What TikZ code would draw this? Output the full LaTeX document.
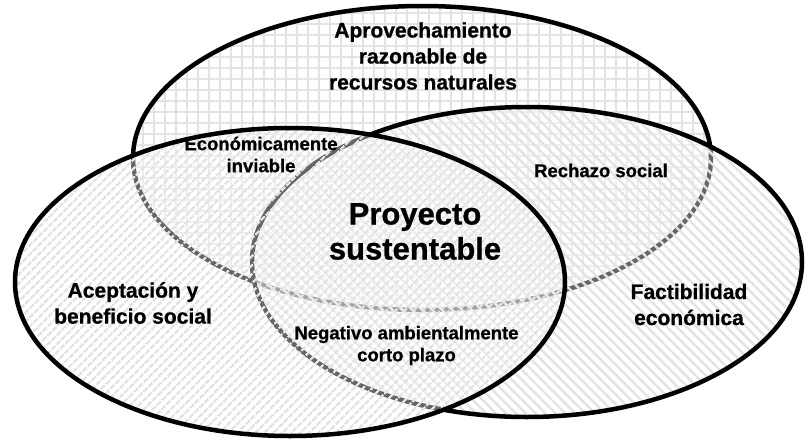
\documentclass[tikz,border=0pt]{standalone}
\usepackage{fontspec}
\setmainfont{Liberation Sans}[BoldFeatures={FakeBold=0.8}]
\usetikzlibrary{patterns.meta}
\begin{document}
\begin{tikzpicture}[x=1pt,y=-1pt,
  lbl/.style={font=\bfseries\fontsize{21}{26}\selectfont, align=center, inner sep=0pt},
  sml/.style={font=\bfseries\fontsize{18.5}{22}\selectfont, align=center, inner sep=0pt},
  big/.style={font=\bfseries\fontsize{31}{35}\selectfont, align=center, inner sep=0pt},
  veil/.style={fill=white, fill opacity=0.4},
  rim/.style={draw=black, line width=4.5pt},
  gridfill/.style={pattern={Hatch[angle=0,distance=11pt,line width=1.4pt]}, pattern color=gray!22},
  nefill/.style={pattern={Lines[angle=45,distance=6.5pt,line width=2.4pt]}, pattern color=gray!22},
  nwfill/.style={pattern={Lines[angle=-45,distance=7pt,line width=2.4pt]}, pattern color=gray!22}]
\useasboundingbox (0,0) rectangle (809,442);
\fill[white] (0,0) rectangle (809,442);
% top ellipse
\path[veil] (422,158) ellipse [x radius=289pt, y radius=152pt];
\path[gridfill] (422,158) ellipse [x radius=289pt, y radius=152pt];
\draw[rim] (422,158) ellipse [x radius=289pt, y radius=152pt];
% right ellipse
\path[veil] (527,262) ellipse [x radius=275pt, y radius=155pt];
\path[nwfill] (527,262) ellipse [x radius=275pt, y radius=155pt];
\draw[rim] (527,262) ellipse [x radius=275pt, y radius=155pt];
% left ellipse
\path[veil] (290,282) ellipse [x radius=275pt, y radius=154pt];
\path[nefill] (290,282) ellipse [x radius=275pt, y radius=154pt];
\draw[rim] (290,282) ellipse [x radius=275pt, y radius=154pt];
% labels
\node[lbl] (arn) at (423,56) {Aprovechamiento\\razonable de\\recursos naturales};
\node[sml] (ei) at (261,154.5) {Económicamente\\inviable};
\node[sml] (rs) at (601,170.5) {Rechazo social};
\node[big] (ps) at (415,231.5) {Proyecto\\sustentable};
\node[sml] (na) at (406.5,345.5) {Negativo ambientalmente\\corto plazo};
\node[lbl] (ab) at (133,303) {Aceptación y\\beneficio social};
\node[lbl] (fe) at (689,304.5) {Factibilidad\\económica};
\end{tikzpicture}
\end{document}
